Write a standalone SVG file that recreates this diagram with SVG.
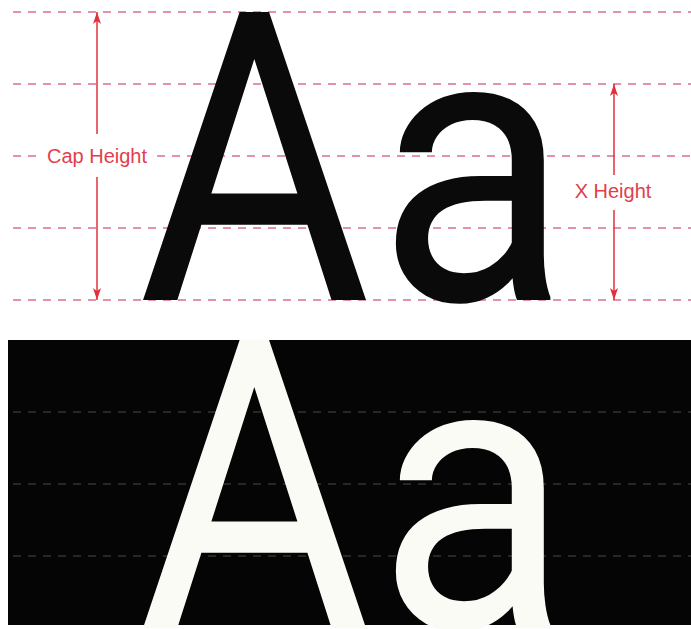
<svg xmlns="http://www.w3.org/2000/svg" width="691" height="629" viewBox="0 0 691 629">
  <defs>
    <marker id="ah" viewBox="0 0 12 8" refX="12" refY="4" markerWidth="12" markerHeight="8" markerUnits="userSpaceOnUse" orient="auto">
      <path d="M0,0 L12,4 L0,8 L3,4 Z" fill="#e2303c"/>
    </marker>
    <style>
      .guide{stroke:#dc6f8c;stroke-width:1.5;stroke-dasharray:8 7;fill:none}
      .guide-dark{stroke:#4a4a4a;stroke-width:1.2;stroke-dasharray:8 7;fill:none}
      .dim{stroke:#e2303c;stroke-width:1.5;fill:none}
      .big{font-family:Roboto,"Liberation Sans",sans-serif;font-size:405px;font-weight:400}
      .label{font-family:"Liberation Sans",Arial,sans-serif;font-size:20px;fill:#e0404c;text-anchor:middle}
    </style>
  </defs>
  <rect x="0" y="0" width="691" height="629" fill="#ffffff"/>

  <g id="guides-top">
    <line class="guide" x1="13" y1="12" x2="691" y2="12"/>
    <line class="guide" x1="13" y1="84" x2="691" y2="84"/>
    <line class="guide" x1="13" y1="156" x2="38" y2="156"/>
    <line class="guide" x1="157" y1="156" x2="691" y2="156"/>
    <line class="guide" x1="13" y1="228" x2="691" y2="228"/>
    <line class="guide" x1="13" y1="300" x2="691" y2="300"/>
  </g>

  <g id="letters-top" fill="#0a0a0a">
    <text class="big" transform="translate(138,300) scale(0.88,1)">A</text>
    <text class="big" transform="translate(377,300) scale(0.875,0.955)">a</text>
  </g>

  <g id="connectors">
    <line class="dim" x1="97" y1="134" x2="97" y2="12" marker-end="url(#ah)"/>
    <line class="dim" x1="97" y1="177" x2="97" y2="300" marker-end="url(#ah)"/>
    <line class="dim" x1="614" y1="175" x2="614" y2="84" marker-end="url(#ah)"/>
    <line class="dim" x1="614" y1="210" x2="614" y2="300" marker-end="url(#ah)"/>
  </g>

  <g id="cap-height-label">
    <text class="label" x="97" y="163">Cap Height</text>
  </g>
  <g id="x-height-label">
    <text class="label" x="613" y="198">X Height</text>
  </g>

  <g id="panel-bottom">
    <rect x="8" y="340" width="683" height="285" fill="#050505"/>
    <line class="guide-dark" x1="13" y1="412" x2="691" y2="412"/>
    <line class="guide-dark" x1="13" y1="484" x2="691" y2="484"/>
    <line class="guide-dark" x1="13" y1="556" x2="691" y2="556"/>
    <g fill="#fbfbf6">
      <text class="big" transform="translate(138,628) scale(0.88,1)">A</text>
      <text class="big" transform="translate(377,628) scale(0.875,0.955)">a</text>
    </g>
  </g>
</svg>
